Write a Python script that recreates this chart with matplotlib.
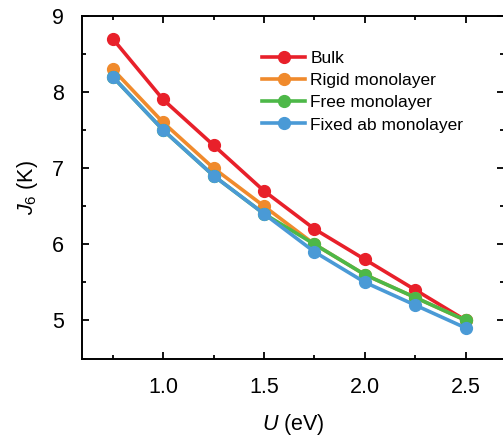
import matplotlib
matplotlib.use("Agg")
import matplotlib.pyplot as plt
from matplotlib.ticker import MultipleLocator

plt.rcParams["font.family"] = "Liberation Sans"
plt.rcParams["mathtext.fontset"] = "custom"
plt.rcParams["mathtext.rm"] = "Liberation Sans"
plt.rcParams["mathtext.it"] = "Liberation Sans:italic"

# exchange J6 vs Hubbard U
u = [0.75, 1.0, 1.25, 1.5, 1.75, 2.0, 2.25, 2.5]
bulk = [8.7, 7.9, 7.3, 6.7, 6.2, 5.8, 5.4, 5.0]
rigid = [8.3, 7.6, 7.0, 6.5, 6.0, 5.6, 5.3, 5.0]
free = [8.2, 7.5, 6.9, 6.4, 6.0, 5.6, 5.3, 5.0]
fixed_ab = [8.2, 7.5, 6.9, 6.4, 5.9, 5.5, 5.2, 4.9]

series = [
    (bulk, "Bulk", "#e8202a"),
    (rigid, "Rigid monolayer", "#f08a2c"),
    (free, "Free monolayer", "#4db848"),
    (fixed_ab, "Fixed ab monolayer", "#4a9ad6"),
]

f = plt.figure(figsize=(5.03, 4.36), dpi=100)
ax1 = f.add_axes([0.1636, 0.176, 0.838, 0.788])
for vals, name, col in series:
    ax1.plot(u, vals, "-o", color=col, lw=2.6, ms=8.5, label=name)

ax1.set_xlim(0.6, 2.688)
ax1.set_ylim(4.49, 9.0)
ax1.xaxis.set_minor_locator(MultipleLocator(0.25))
ax1.yaxis.set_major_locator(MultipleLocator(1))
ax1.yaxis.set_minor_locator(MultipleLocator(0.5))
ax1.set_xticks([1.0, 1.5, 2.0, 2.5])
ax1.tick_params(which="both", direction="in", top=True, right=True, width=1.3,
                labelsize=15.5, pad=13)
ax1.tick_params(which="major", length=5)
ax1.tick_params(which="minor", length=3)
for s in ax1.spines.values():
    s.set_linewidth(1.4)

ax1.set_xlabel(r"$U$ (eV)", fontsize=15.5, labelpad=10)
ax1.set_ylabel(r"$J_6$ (K)", fontsize=15.5, labelpad=9)
ax1.legend(loc="upper left", bbox_to_anchor=(0.426, 0.897), frameon=False,
           fontsize=12.5, handlelength=2.5, labelspacing=0.4, handletextpad=0.3,
           borderpad=0, borderaxespad=0)

plt.savefig("out.png", dpi=100)
